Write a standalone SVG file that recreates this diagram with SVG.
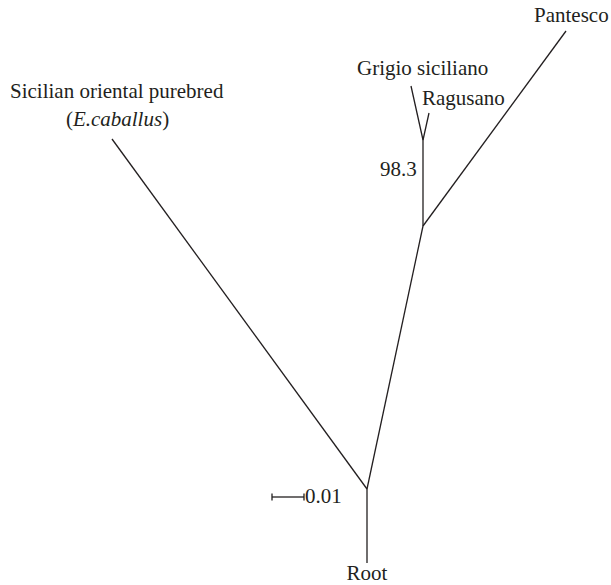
<svg xmlns="http://www.w3.org/2000/svg" width="611" height="585" viewBox="0 0 611 585">
<style>
text{font-family:'Liberation Serif','Times New Roman',serif;font-size:21px;fill:#231f20}
.e{stroke:#231f20;stroke-width:1.3;fill:none}
</style>
<rect width="611" height="585" fill="#fff"/>
<g id="connectors">
<line class="e" x1="367" y1="489" x2="367" y2="563"/>
<line class="e" x1="367" y1="489" x2="112" y2="139"/>
<line class="e" x1="367" y1="489" x2="423" y2="226"/>
<line class="e" x1="423" y1="226" x2="566" y2="31"/>
<line class="e" x1="423" y1="226" x2="423" y2="140"/>
<line class="e" x1="423" y1="140" x2="411" y2="86"/>
<line class="e" x1="423" y1="140" x2="429" y2="113"/>
</g>
<g id="scale">
<line class="e" x1="272" y1="497" x2="304" y2="497"/>
<line class="e" x1="272" y1="493.5" x2="272" y2="500.5"/>
<line class="e" x1="304" y1="493.5" x2="304" y2="500.5"/>
<text x="305" y="503">0.01</text>
</g>
<g id="node-sicilian">
<text x="10" y="98">Sicilian oriental purebred</text>
<text x="117.5" y="126" text-anchor="middle">(<tspan font-style="italic">E.caballus</tspan>)</text>
</g>
<g id="node-pantesco"><text x="534" y="22">Pantesco</text></g>
<g id="node-grigio"><text x="357" y="75">Grigio siciliano</text></g>
<g id="node-ragusano"><text x="422" y="105">Ragusano</text></g>
<g id="label-98"><text x="380" y="176">98.3</text></g>
<g id="node-root"><text x="367" y="580" text-anchor="middle">Root</text></g>
</svg>
